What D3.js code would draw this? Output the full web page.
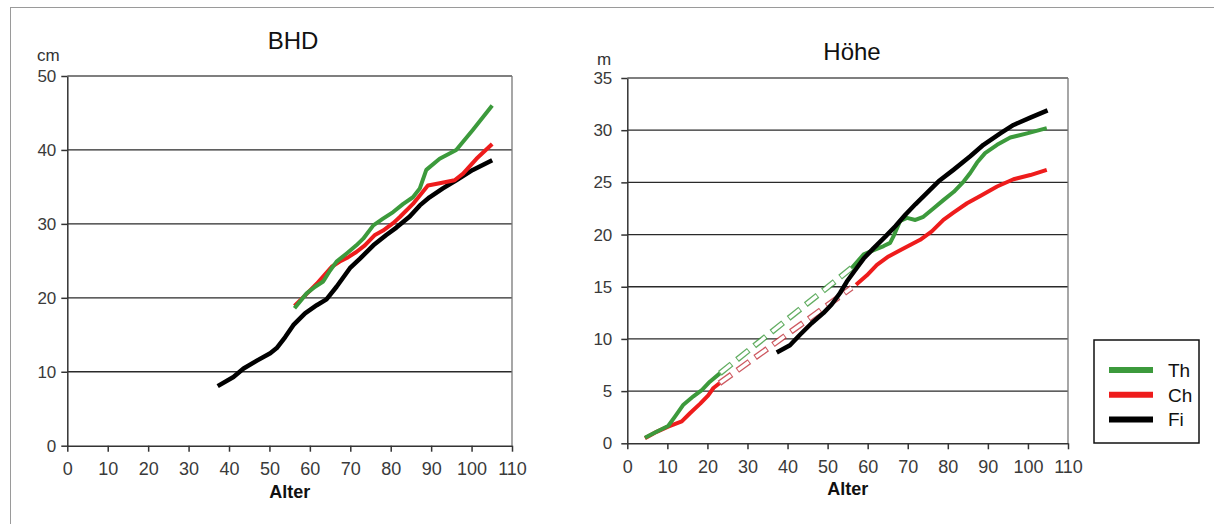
<!DOCTYPE html>
<html>
<head>
<meta charset="utf-8">
<script src="https://cdn.jsdelivr.net/npm/d3@7"></script>
<style>
  html, body { margin: 0; padding: 0; background: #fff; }
  svg { display: block; font-family: "Liberation Sans", Arial, sans-serif; }
</style>
</head>
<body>
<svg id="chart" width="1214" height="524"></svg>
<script>
// ---------- data ----------
const seriesNames = ["Th", "Ch", "Fi"];
const seriesColors = { Th: "#3c9a3c", Ch: "#ee1c1c", Fi: "#000000" };
const xTicks = [0, 10, 20, 30, 40, 50, 60, 70, 80, 90, 100, 110];
const bhdYTicks = [0, 10, 20, 30, 40, 50];
const hoeheYTicks = [0, 5, 10, 15, 20, 25, 30, 35];

// BHD (cm) vs Alter: [age, value]
const bhdTh = [[56.2,18.6],[59.2,20.6],[61.3,21.5],[63.3,22.2],[65.0,23.7],[66.6,24.9],[69.1,26.0],[71.5,27.1],[73.2,28.0],[75.7,29.8],[78.1,30.7],[80.6,31.6],[83.1,32.7],[85.5,33.6],[87.2,34.8],[88.8,37.3],[92.1,38.8],[96.2,40.0],[100.3,42.7],[105.1,46.0]];
const bhdCh = [[56.2,18.9],[58.4,20.1],[61.7,21.9],[65.4,24.2],[67.4,24.9],[69.5,25.5],[71.5,26.2],[73.6,27.1],[76.1,28.5],[78.1,29.1],[80.6,30.1],[82.2,30.9],[85.5,32.7],[87.6,34.1],[89.2,35.2],[92.1,35.5],[95.8,35.9],[97.9,36.8],[101.2,38.8],[105.1,40.8]];
const bhdFi = [[37.2,8.06],[41.1,9.3],[43.6,10.45],[46.9,11.5],[50.2,12.5],[51.8,13.2],[53.9,14.7],[55.9,16.3],[58.8,17.9],[61.7,19.0],[64.1,19.8],[66.6,21.5],[69.9,24.0],[72.4,25.3],[75.7,27.1],[78.9,28.5],[81.4,29.5],[84.7,31.0],[87.2,32.5],[89.6,33.6],[92.9,34.8],[96.2,35.9],[100.3,37.3],[105.1,38.6]];

// Höhe (m) vs Alter: [age, value]
const hoeheThEarly = [[4.4,0.54],[7.3,1.1],[10.2,1.66],[11.9,2.56],[14.0,3.7],[16.5,4.5],[18.6,5.1],[20.6,5.9],[23.1,6.7]];
const hoeheThLate = [[56.0,16.8],[59.0,18.1],[61.5,18.5],[64.0,18.9],[65.6,19.2],[66.4,19.8],[68.1,21.3],[69.8,21.6],[71.9,21.4],[73.9,21.7],[76.4,22.5],[78.9,23.3],[81.5,24.1],[84.0,25.1],[85.6,25.9],[87.3,26.9],[89.3,27.8],[92.3,28.6],[95.6,29.3],[99.8,29.7],[104.7,30.2]];
const hoeheChEarly = [[4.4,0.48],[7.3,1.1],[10.2,1.6],[13.6,2.1],[15.7,2.9],[18.2,3.8],[20.2,4.6],[21.5,5.3],[23.0,5.75]];
const hoeheChLate = [[57.1,15.2],[59.8,16.1],[62.3,17.1],[65.2,17.9],[68.1,18.5],[70.6,19.0],[73.1,19.5],[76.0,20.3],[78.9,21.4],[81.4,22.1],[84.8,23.0],[88.1,23.7],[92.3,24.6],[96.4,25.3],[100.6,25.7],[104.7,26.2]];
const hoeheFi = [[37.3,8.7],[40.6,9.4],[43.1,10.4],[46.0,11.5],[49.0,12.5],[51.0,13.3],[53.1,14.4],[54.8,15.5],[56.9,16.6],[59.0,17.7],[61.5,18.7],[64.4,19.8],[66.9,20.8],[69.4,21.9],[71.9,22.9],[74.8,24.0],[77.7,25.1],[81.4,26.2],[85.6,27.5],[88.9,28.6],[93.1,29.7],[96.4,30.5],[100.6,31.2],[104.9,31.9]];
// dashed bridges (last point of early segment -> first point of late segment)
const hoeheThBridge = [hoeheThEarly[hoeheThEarly.length - 1], [56.0, 16.8]];
const hoeheChBridge = [hoeheChEarly[hoeheChEarly.length - 1], [56.0, 14.9]];

// ---------- drawing ----------
const svg = d3.select("#chart");

// outer frame
svg.append("rect")
  .attr("x", 10.5).attr("y", 7.5)
  .attr("width", 1300).attr("height", 600)
  .attr("fill", "none").attr("stroke", "#9a9a9a").attr("stroke-width", 1);

function panel(cfg) {
  const x = d3.scaleLinear().domain([0, 110]).range([cfg.left, cfg.right]);
  const y = d3.scaleLinear().domain([0, cfg.yMax]).range([cfg.bottom, cfg.top]);
  const g = svg.append("g");

  // gridlines
  g.selectAll("line.grid").data(cfg.yTicks.filter(t => t > 0 && t < cfg.yMax))
    .enter().append("line")
    .attr("x1", cfg.left).attr("x2", cfg.right)
    .attr("y1", d => y(d)).attr("y2", d => y(d))
    .attr("stroke", "#2a2a2a").attr("stroke-width", 1.3);
  // frame top & right
  g.append("line").attr("x1", cfg.left).attr("x2", cfg.right)
    .attr("y1", y(cfg.yMax)).attr("y2", y(cfg.yMax))
    .attr("stroke", "#555").attr("stroke-width", 1.3);
  g.append("line").attr("x1", cfg.right).attr("x2", cfg.right)
    .attr("y1", y(cfg.yMax)).attr("y2", y(0))
    .attr("stroke", "#777").attr("stroke-width", 1.3);

  // axes
  const ax = g.append("g").attr("transform", `translate(0,${cfg.bottom})`)
    .call(d3.axisBottom(x).tickValues(xTicks).tickSize(6).tickPadding(11).tickSizeOuter(0));
  ax.selectAll("text").attr("font-size", 18).attr("fill", "#3a3a3a")
    .attr("font-family", "'Liberation Sans', Arial, sans-serif");
  const ay = g.append("g").attr("transform", `translate(${cfg.left},0)`)
    .call(d3.axisLeft(y).tickValues(cfg.yTicks).tickSize(6).tickPadding(cfg.yPad).tickSizeOuter(0));
  ay.selectAll("text").attr("font-size", 17).attr("fill", "#3a3a3a")
    .attr("font-family", "'Liberation Sans', Arial, sans-serif");
  [ax, ay].forEach(a => {
    a.select(".domain").attr("stroke", "#333").attr("stroke-width", 1.5);
    a.selectAll(".tick line").attr("stroke", "#333").attr("stroke-width", 1.5);
  });

  // titles / labels
  svg.append("text").attr("x", cfg.titleX).attr("y", cfg.titleY)
    .attr("text-anchor", "middle").attr("font-size", 24).attr("fill", "#111")
    .text(cfg.title);
  svg.append("text").attr("x", cfg.unitX).attr("y", cfg.unitY)
    .attr("font-size", 17).attr("fill", "#333").text(cfg.unit);
  svg.append("text").attr("x", (cfg.left + cfg.right) / 2).attr("y", cfg.bottom + 52)
    .attr("text-anchor", "middle").attr("font-size", 18).attr("font-weight", "bold")
    .attr("fill", "#111").text("Alter");

  const line = d3.line().x(d => x(d[0])).y(d => y(d[1]));

  // dashed bridges (hollow dashes)
  (cfg.bridges || []).forEach(b => {
    g.append("path").attr("d", line(b.data)).attr("fill", "none")
      .attr("stroke", b.color).attr("stroke-width", 6).attr("stroke-opacity", 0.8)
      .attr("stroke-dasharray", "15 7");
    g.append("path").attr("d", line(b.data)).attr("fill", "none")
      .attr("stroke", "#fff").attr("stroke-width", 3.4)
      .attr("stroke-dasharray", "13 9").attr("stroke-dashoffset", -1);
  });

  cfg.lines.forEach(l => {
    g.append("path").attr("d", line(l.data)).attr("fill", "none")
      .attr("stroke", seriesColors[l.name]).attr("stroke-width", l.name === "Fi" ? 4.5 : 4)
      .attr("stroke-linejoin", "round");
  });
}

panel({
  left: 67.3, right: 512, top: 76, bottom: 445.7, yMax: 50, yTicks: bhdYTicks, yPad: 5,
  title: "BHD", titleX: 293, titleY: 49, unit: "cm", unitX: 37, unitY: 61,
  lines: [{ name: "Fi", data: bhdFi }, { name: "Ch", data: bhdCh }, { name: "Th", data: bhdTh }]
});

panel({
  left: 627.3, right: 1068, top: 78, bottom: 443.3, yMax: 35, yTicks: hoeheYTicks, yPad: 9,
  title: "Höhe", titleX: 852, titleY: 60, unit: "m", unitX: 597, unitY: 65,
  bridges: [{ data: hoeheThBridge, color: "#3c9a3c" }, { data: hoeheChBridge, color: "#c0303a" }],
  lines: [{ name: "Ch", data: hoeheChEarly }, { name: "Th", data: hoeheThEarly },
          { name: "Th", data: hoeheThLate }, { name: "Ch", data: hoeheChLate },
          { name: "Fi", data: hoeheFi }]
});

// legend
const lg = svg.append("g");
lg.append("rect").attr("x", 1094).attr("y", 340).attr("width", 105).attr("height", 103)
  .attr("fill", "#fff").attr("stroke", "#111").attr("stroke-width", 1.5);
seriesNames.forEach((n, i) => {
  const yy = 370 + i * 24.7;
  lg.append("line").attr("x1", 1109).attr("x2", 1153).attr("y1", yy).attr("y2", yy)
    .attr("stroke", seriesColors[n]).attr("stroke-width", 6);
  lg.append("text").attr("x", 1168).attr("y", yy + 7).attr("font-size", 19)
    .attr("fill", "#111").text(n);
});
</script>
</body>
</html>
